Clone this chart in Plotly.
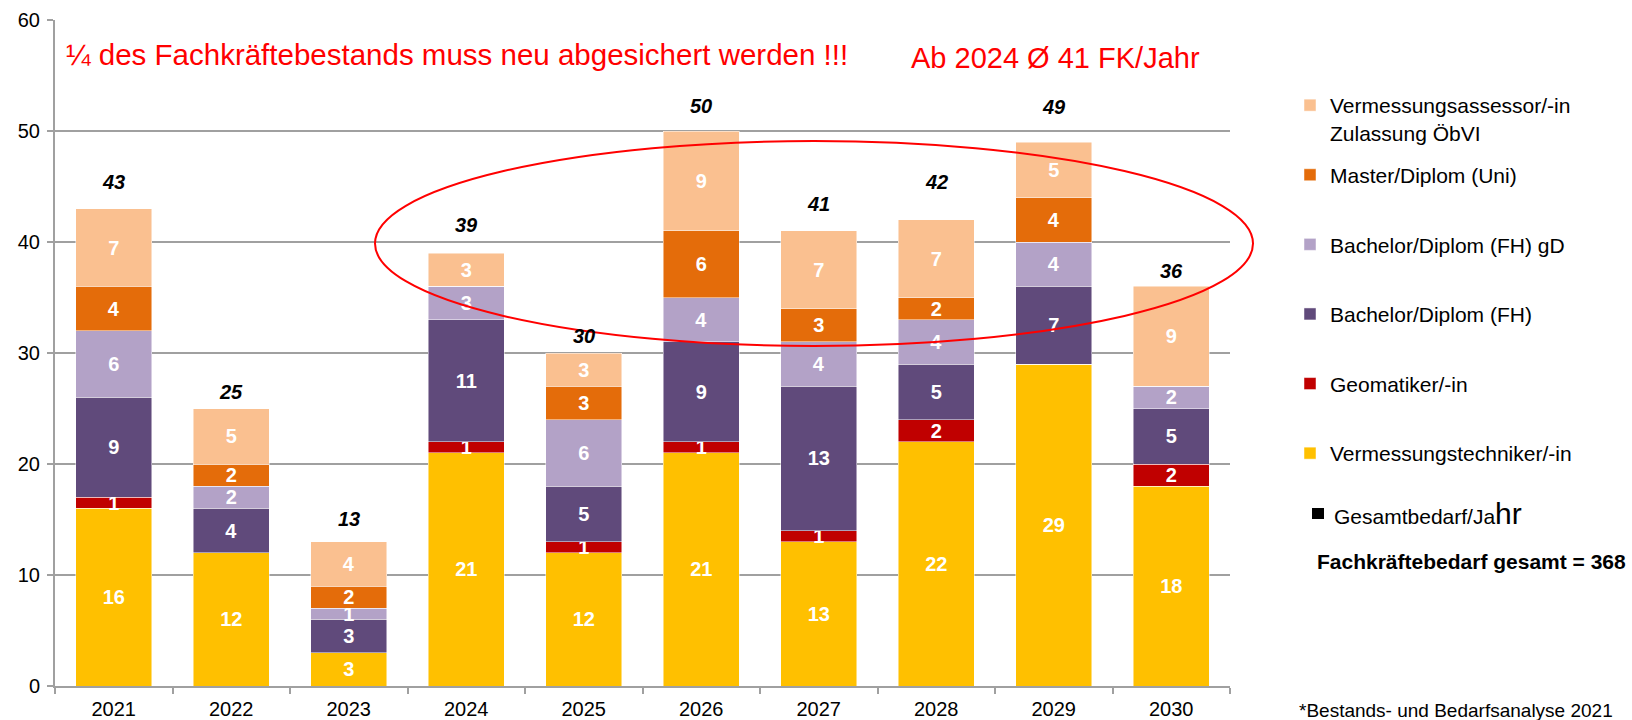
import plotly.graph_objects as go

years = ["2021", "2022", "2023", "2024", "2025", "2026", "2027", "2028", "2029", "2030"]

vermessungstechniker = [16, 12, 3, 21, 12, 21, 13, 22, 29, 18]
geomatiker = [1, 0, 0, 1, 1, 1, 1, 2, 0, 2]
bachelor_fh = [9, 4, 3, 11, 5, 9, 13, 5, 7, 5]
bachelor_gd = [6, 2, 1, 3, 6, 4, 4, 4, 4, 2]
master_uni = [4, 2, 2, 0, 3, 6, 3, 2, 4, 0]
assessor = [7, 5, 4, 3, 3, 9, 7, 7, 5, 9]

totals = [43, 25, 13, 39, 30, 50, 41, 42, 49, 36]

# styling / layout only
total_label_shift_px = [27, 17, 23, 28, 17, 25, 27, 38, 35, 15]

FONT = "Liberation Sans, Arial, sans-serif"

series = [
    ("Vermessungstechniker/-in<br> ", vermessungstechniker, "#FFC000"),
    ("Geomatiker/-in<br> ", geomatiker, "#C00000"),
    ("Bachelor/Diplom (FH)<br> ", bachelor_fh, "#604A7B"),
    ("Bachelor/Diplom (FH) gD<br> ", bachelor_gd, "#B3A2C7"),
    ("Master/Diplom (Uni)<br> ", master_uni, "#E46C0A"),
    ("Vermessungsassessor/-in<br>Zulassung ÖbVI", assessor, "#FAC090"),
]

fig = go.Figure()
n = len(series)
for i, (name, vals, color) in enumerate(series):
    fig.add_trace(go.Bar(
        x=years, y=vals, name=name, legendgroup=f"g{i}", legendrank=(n - i) * 10,
        marker=dict(color=color, line=dict(color="rgba(255,255,255,0.6)", width=0.8)),
        text=[str(v) if v else "" for v in vals],
        textposition="inside", insidetextanchor="middle", textangle=0,
        textfont=dict(family=FONT, size=20, color="white", weight="bold"),
        hoverinfo="skip",
    ))

annotations = []
for idx, (tot, sh) in enumerate(zip(totals, total_label_shift_px)):
    annotations.append(dict(
        x=idx, y=tot, xref="x", yref="y", text=f"<b><i>{tot}</i></b>",
        showarrow=False, yshift=sh, font=dict(family=FONT, size=20, color="black"),
        xanchor="center", yanchor="middle",
    ))

L, R, T, B = 55, 402, 20, 34
PW = 1632 - L - R
PH = 720 - T - B


def px(xp):
    return (xp - L) / PW


def py(yp):
    return (720 - B - yp) / PH


annotations += [
    dict(x=px(64), y=py(55), xref="paper", yref="paper", xanchor="left", yanchor="middle",
         text="¼ des Fachkräftebestands muss neu abgesichert werden !!!", showarrow=False,
         font=dict(family=FONT, size=29.5, color="#FF0000")),
    dict(x=px(909), y=py(58), xref="paper", yref="paper", xanchor="left", yanchor="middle",
         text="Ab 2024 Ø 41 FK/Jahr", showarrow=False,
         font=dict(family=FONT, size=29, color="#FF0000")),
    dict(x=px(1332), y=py(513), xref="paper", yref="paper", xanchor="left", yanchor="middle",
         text="Gesamtbedarf/Ja<span style='font-size:30px'>hr</span>", showarrow=False,
         font=dict(family=FONT, size=21, color="black")),
    dict(x=px(1315), y=py(561), xref="paper", yref="paper", xanchor="left", yanchor="middle",
         text="<b>Fachkräftebedarf gesamt = 368</b>", showarrow=False,
         font=dict(family=FONT, size=21, color="black")),
    dict(x=px(1297), y=py(710), xref="paper", yref="paper", xanchor="left", yanchor="middle",
         text="*Bestands- und Bedarfsanalyse 2021", showarrow=False,
         font=dict(family=FONT, size=19, color="black")),
]

shapes = [
    dict(type="circle", xref="paper", yref="paper",
         x0=px(375), x1=px(1253), y0=py(346), y1=py(141),
         line=dict(color="#FF0000", width=2)),
    dict(type="rect", xref="paper", yref="paper",
         x0=px(1312), x1=px(1324), y0=py(519), y1=py(508),
         fillcolor="black", line=dict(width=0)),
]

fig.update_layout(
    width=1632, height=720,
    margin=dict(l=L, r=R, t=T, b=B, pad=0, autoexpand=False),
    barmode="stack", bargap=0.35,
    plot_bgcolor="white", paper_bgcolor="white",
    font=dict(family=FONT, size=20, color="black"),
    uniformtext=dict(minsize=20, mode="show"),
    showlegend=True,
    legend=dict(
        x=px(1290), y=py(85), xanchor="left", yanchor="top",
        traceorder="grouped", tracegroupgap=12, valign="top",
        font=dict(family=FONT, size=21, color="black"),
        bgcolor="rgba(0,0,0,0)", borderwidth=0,
    ),
    annotations=annotations,
    shapes=shapes,
    xaxis=dict(
        type="category", range=[-0.5, len(years) - 0.5], autorange=False, automargin=False,
        showgrid=False, showline=True, linecolor="#A0A0A0", linewidth=2,
        ticks="outside", tickson="boundaries", ticklen=6, tickcolor="#A0A0A0", tickwidth=2,
        tickfont=dict(family=FONT, size=20, color="black"), tickangle=0,
        ticklabelstandoff=4,
    ),
    yaxis=dict(
        range=[0, 60], dtick=10, showgrid=True, gridcolor="#A0A0A0", gridwidth=2,
        showline=True, linecolor="#A0A0A0", linewidth=2, zeroline=False, automargin=False,
        ticks="outside", ticklen=6, tickcolor="#A0A0A0", tickwidth=2,
        tickfont=dict(family=FONT, size=20, color="black"), ticklabelstandoff=3,
    ),
)

fig.write_html("out.html", config={"displayModeBar": False},
               post_script="document.body.style.margin='0';")
